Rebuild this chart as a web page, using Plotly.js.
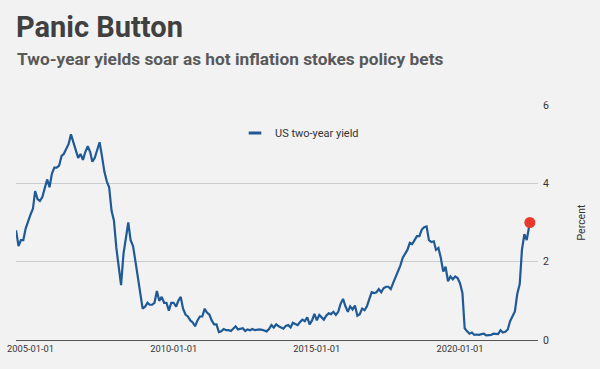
<!DOCTYPE html>
<html><head><meta charset="utf-8">
<script src="https://cdn.plot.ly/plotly-3.0.1.min.js"></script>
<style>html,body{margin:0;padding:0;background:#f2f2f2;}#chart{width:600px;height:369px;}</style>
</head><body><div id="chart"></div>
<script>
const seriesName = 'US two-year yield';
const chartTitle = 'Panic Button';
const chartSubtitle = 'Two-year yields soar as hot inflation stokes policy bets';
const yAxisTitle = 'Percent';

// Monthly readings (first of month), percent
const y2004 = [2.80, 2.40, 2.55, 2.55, 2.85, 3.05]; // Jul-Dec
const y2005 = [3.20, 3.35, 3.80, 3.60, 3.55, 3.65, 3.90, 4.10, 3.90, 4.25, 4.40, 4.40];
const y2006 = [4.45, 4.70, 4.75, 4.90, 5.00, 5.25, 5.05, 4.80, 4.65, 4.75, 4.60, 4.80];
const y2007 = [4.95, 4.80, 4.55, 4.65, 4.85, 5.05, 4.70, 4.30, 4.05, 3.90, 3.30, 3.05];
const y2008 = [2.35, 1.90, 1.40, 2.20, 2.55, 3.00, 2.55, 2.40, 2.00, 1.60, 1.10, 0.80];
const y2009 = [0.85, 0.95, 0.90, 0.90, 0.95, 1.25, 1.00, 1.10, 0.95, 0.95, 0.75, 0.95];
const y2010 = [0.95, 0.85, 1.00, 1.10, 0.80, 0.65, 0.60, 0.50, 0.45, 0.35, 0.50, 0.60];
const y2011 = [0.60, 0.80, 0.70, 0.65, 0.50, 0.40, 0.40, 0.20, 0.22, 0.28, 0.25, 0.25];
const y2012 = [0.23, 0.29, 0.35, 0.27, 0.28, 0.30, 0.23, 0.27, 0.25, 0.28, 0.25, 0.26];
const y2013 = [0.27, 0.26, 0.25, 0.22, 0.28, 0.38, 0.32, 0.40, 0.35, 0.32, 0.29, 0.36];
const y2014 = [0.38, 0.32, 0.44, 0.41, 0.38, 0.46, 0.52, 0.48, 0.58, 0.40, 0.50, 0.67];
const y2015 = [0.50, 0.64, 0.58, 0.52, 0.62, 0.68, 0.66, 0.72, 0.64, 0.72, 0.93, 1.05];
const y2016 = [0.86, 0.72, 0.86, 0.78, 0.88, 0.62, 0.66, 0.80, 0.76, 0.86, 1.05, 1.22];
const y2017 = [1.20, 1.22, 1.30, 1.22, 1.32, 1.36, 1.36, 1.30, 1.46, 1.60, 1.75, 1.90];
const y2018 = [2.10, 2.22, 2.30, 2.48, 2.45, 2.55, 2.65, 2.65, 2.82, 2.88, 2.90, 2.55];
const y2019 = [2.50, 2.52, 2.30, 2.35, 2.10, 1.75, 1.87, 1.50, 1.62, 1.55, 1.62, 1.58];
const y2020 = [1.45, 1.20, 0.30, 0.22, 0.16, 0.19, 0.13, 0.14, 0.13, 0.15, 0.16, 0.12];
const y2021 = [0.12, 0.13, 0.16, 0.16, 0.15, 0.25, 0.19, 0.21, 0.27, 0.48, 0.60, 0.73];
const y2022 = [1.18, 1.43, 2.30, 2.70, 2.55, 2.85]; // Jan-Jun
const latestDate = '2022-06-10';
const latestValue = 3.0;

const xTickVals = ['2005-01-01', '2010-01-01', '2015-01-01', '2020-01-01'];
const xTickText = ['2005-01-01', '2010-01-01', '2015-01-01', '2020-01-01'];
const yTickVals = [0, 2, 4, 6];
const yTickText = ['0', '2', '4', '6'];

const yearly = [
  [2004, 7, y2004], [2005, 1, y2005], [2006, 1, y2006], [2007, 1, y2007],
  [2008, 1, y2008], [2009, 1, y2009], [2010, 1, y2010], [2011, 1, y2011],
  [2012, 1, y2012], [2013, 1, y2013], [2014, 1, y2014], [2015, 1, y2015],
  [2016, 1, y2016], [2017, 1, y2017], [2018, 1, y2018], [2019, 1, y2019],
  [2020, 1, y2020], [2021, 1, y2021], [2022, 1, y2022]
];
const dates = [], values = [];
yearly.forEach(([yr, m0, arr]) => arr.forEach((v, i) => {
  dates.push(yr + '-' + String(m0 + i).padStart(2, '0') + '-01');
  values.push(v);
}));
dates.push(latestDate); values.push(latestValue);

const blue = '#1f5a96';
const traces = [
  {x: dates, y: values, type: 'scatter', mode: 'lines', name: seriesName,
   line: {color: blue, width: 2.2}, showlegend: false, hoverinfo: 'x+y'},
  {x: [latestDate], y: [latestValue], type: 'scatter', mode: 'markers', name: 'Latest',
   marker: {color: '#e8392f', size: 11}, showlegend: false},
  {x: [null], y: [null], type: 'scatter', mode: 'markers', name: seriesName,
   marker: {symbol: 'line-ew', size: 9, color: blue, line: {color: blue, width: 3}}, showlegend: true}
];

const layout = {
  width: 600, height: 369,
  margin: {l: 16, r: 62, t: 105, b: 29},
  paper_bgcolor: '#f2f2f2', plot_bgcolor: '#f2f2f2',
  font: {family: 'Roboto, sans-serif', color: '#333'},
  title: {text: chartTitle, xref: 'container', yref: 'container', x: 16/600, xanchor: 'left',
          y: 1 - 26.5/369, yanchor: 'middle',
          font: {family: 'Roboto', size: 29, weight: 700, color: '#404040'}},
  annotations: [{text: chartSubtitle, xref: 'paper', yref: 'paper', x: -0.001, xanchor: 'left',
                 y: (340 - 58.5) / 235, yanchor: 'middle', showarrow: false,
                 font: {family: 'Roboto', size: 17.3, weight: 700, color: '#595959'}}],
  xaxis: {type: 'date', range: ['2004-06-30', '2022-09-22'], tickvals: xTickVals, ticktext: xTickText,
          showgrid: false, zeroline: false, showline: true, linecolor: '#555', linewidth: 1,
          ticks: '', tickfont: {size: 9.3, color: '#333'}},
  yaxis: {side: 'right', range: [0, 6], tickvals: yTickVals, ticktext: yTickText,
          showgrid: true, gridcolor: '#cccccc', gridwidth: 1, zeroline: false,
          ticks: '', ticklabelstandoff: 4, tickfont: {size: 10.5, color: '#333'},
          title: {text: yAxisTitle, standoff: 29, font: {size: 10.5, color: '#333'}}},
  legend: {x: (235 - 16) / 522, xanchor: 'left', y: (340 - 133) / 235, yanchor: 'middle',
           bgcolor: 'rgba(0,0,0,0)', font: {size: 11, color: '#333'}},
  showlegend: true
};
Plotly.newPlot('chart', traces, layout, {displayModeBar: false, staticPlot: true});
</script>
</body></html>
